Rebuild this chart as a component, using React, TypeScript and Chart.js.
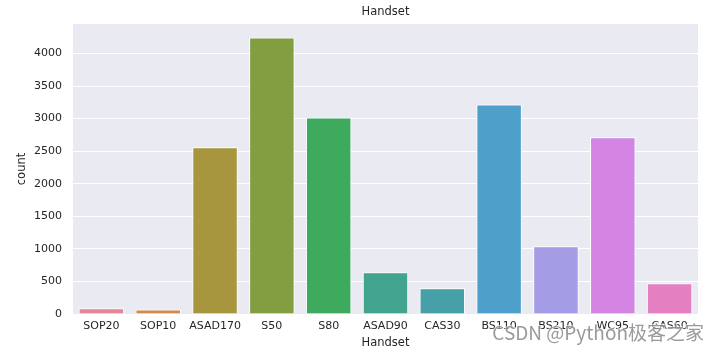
import React, { useEffect, useRef } from "react";
import { Chart, registerables } from "chart.js";

Chart.register(...registerables);

const categories = ["SOP20", "SOP10", "ASAD170", "S50", "S80", "ASAD90", "CAS30", "BS110", "BS210", "WC95", "CAS60"];
const counts = [88, 70, 2560, 4245, 3018, 640, 396, 3215, 1040, 2715, 472];
const barColors = ["#e4879a", "#d48a4c", "#a8963f", "#829e40", "#3eaa5d", "#42a48e", "#47a0a8", "#4f9fcb", "#a49de6", "#d485e4", "#e480c1"];
const yMax = 4452;
const yTicks = [0, 500, 1000, 1500, 2000, 2500, 3000, 3500, 4000];
const titleText = "Handset";
const xTitle = "Handset";
const yTitle = "count";
const watermark = "CSDN @Python极客之家";

const FONT = "'DejaVu Sans', sans-serif";
const WM_FONT = "'Noto Sans CJK SC', 'Noto Sans', sans-serif";

export default function App() {
  const ref = useRef<HTMLCanvasElement | null>(null);
  useEffect(() => {
    document.body.style.margin = "0";
    const canvas = ref.current!;
    const bgPlugin = {
      id: "bgArea",
      beforeDraw(chart: any) {
        const { ctx, chartArea } = chart;
        ctx.save();
        ctx.fillStyle = "#eaeaf2";
        ctx.fillRect(chartArea.left, chartArea.top, chartArea.right - chartArea.left, chartArea.bottom - chartArea.top);
        ctx.restore();
      },
      afterDraw(chart: any) {
        const { ctx, chartArea } = chart;
        ctx.save();
        ctx.fillStyle = "#262626";
        ctx.font = `11.5px ${FONT}`;
        ctx.textAlign = "center";
        ctx.textBaseline = "middle";
        ctx.fillText(titleText, (chartArea.left + chartArea.right) / 2, 12);
        ctx.font = `19px ${WM_FONT}`;
        ctx.textAlign = "right";
        ctx.textBaseline = "alphabetic";
        ctx.lineWidth = 2;
        ctx.strokeStyle = "rgba(255,255,255,0.6)";
        ctx.strokeText(watermark, 704, 340);
        ctx.fillStyle = "rgba(120,120,120,0.75)";
        ctx.fillText(watermark, 704, 340);
        ctx.restore();
      },
    };
    const chart = new Chart(canvas, {
      type: "bar",
      data: {
        labels: categories,
        datasets: [
          {
            data: counts,
            backgroundColor: barColors,
            borderColor: "#ffffff",
            borderWidth: 1,
            barPercentage: 0.8,
            categoryPercentage: 1,
          },
        ],
      },
      options: {
        animation: false,
        responsive: false,
        devicePixelRatio: 1,
        layout: { padding: { top: 24, right: 20, left: 0, bottom: 0 } },
        plugins: { legend: { display: false }, title: { display: false }, tooltip: { enabled: false } },
        scales: {
          x: {
            offset: true,
            grid: { display: false, drawTicks: false },
            border: { display: false },
            ticks: { color: "#262626", font: { family: FONT, size: 11 }, padding: 6, maxRotation: 0, autoSkip: false },
            title: { display: true, text: xTitle, color: "#262626", font: { family: FONT, size: 11.5 }, padding: { top: 0, bottom: 5 } },
            afterFit: (s: any) => { s.height = 41; },
          },
          y: {
            min: 0,
            max: yMax,
            grid: { color: "#ffffff", lineWidth: 1, drawTicks: false },
            border: { display: false },
            ticks: { color: "#262626", font: { family: FONT, size: 11 }, padding: 11, callback: (v: any) => String(v) },
            afterBuildTicks: (s: any) => { s.ticks = yTicks.map((v) => ({ value: v })); },
            title: { display: true, text: yTitle, color: "#262626", font: { family: FONT, size: 11.5 }, padding: { top: 15, bottom: 0 } },
            afterFit: (s: any) => { s.width = 73; },
          },
        },
      },
      plugins: [bgPlugin],
    });
    return () => chart.destroy();
  }, []);
  return (
    <div style={{ width: 718, height: 355, position: "relative" }}>
      <canvas ref={ref} width={718} height={355} style={{ display: "block", width: 718, height: 355 }} />
    </div>
  );
}
